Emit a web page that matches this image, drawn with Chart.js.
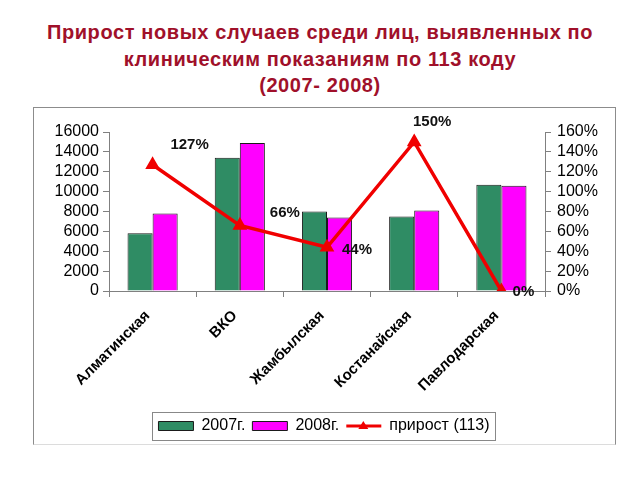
<!DOCTYPE html>
<html>
<head>
<meta charset="utf-8">
<script src="https://cdn.jsdelivr.net/npm/chart.js@4"></script>
<style>
    body { margin: 0; width: 640px; height: 480px; background: #fff; position: relative; overflow: hidden; }
    #title {
        position: absolute; left: 0; top: 19px; width: 640px; text-align: center;
        font: bold 20px "Liberation Sans", Arial, sans-serif; letter-spacing: 0.6px;
        line-height: 26.5px; color: #A0102A;
    }
    #frame {
        position: absolute; left: 33px; top: 107px; width: 581px; height: 336px;
        border: 1px solid #8c8c8c; border-bottom-color: #dcdcdc;
    }
    #wrap { position: absolute; left: 33px; top: 107px; width: 582px; height: 337px; }
</style>
</head>
<body>
<div id="title">Прирост новых случаев среди лиц, выявленных по<br>клиническим показаниям по 113 коду<br>(2007- 2008)</div>
<div id="frame"></div>
<div id="wrap"><canvas id="chart" width="582" height="337"></canvas></div>
<script>
const regions = ['Алматинская', 'ВКО', 'Жамбылская', 'Костанайская', 'Павлодарская'];
const cases2007 = [5800, 13400, 8000, 7500, 10700];
const cases2008 = [7800, 14900, 7400, 8100, 10600];
const growth = [127, 66, 44, 150, 0];
const leftTicks = [0, 2000, 4000, 6000, 8000, 10000, 12000, 14000, 16000];
const rightTicks = [0, 20, 40, 60, 80, 100, 120, 140, 160];

const FONT = "'Liberation Sans', Arial, sans-serif";
const AXIS_GREY = '#808080';

// label offsets relative to each growth point (px)
const labelShift = [[37, -20], [45, -13], [30, 3], [18, -20], [22, 1]];

const growthLabels = {
    id: 'growthLabels',
    afterDatasetsDraw(chart) {
        const meta = chart.getDatasetMeta(2);
        const ctx = chart.ctx;
        ctx.save();
        ctx.font = 'bold 15px ' + FONT;
        ctx.fillStyle = '#111';
        ctx.textAlign = 'center';
        ctx.textBaseline = 'middle';
        meta.data.forEach((pt, i) => {
            ctx.fillText(growth[i] + '%', pt.x + labelShift[i][0], pt.y + labelShift[i][1]);
        });
        ctx.restore();
    }
};

const legendDecor = {
    id: 'legendDecor',
    afterDraw(chart) {
        const lg = chart.legend;
        if (!lg || !lg.legendHitBoxes.length) return;
        const boxes = lg.legendHitBoxes;
        const ctx = chart.ctx;
        const last = boxes[boxes.length - 1];
        const l = boxes[0].left - 6, r = last.left + last.width + 6;
        const t = boxes[0].top - 6, b = boxes[0].top + boxes[0].height + 6;
        ctx.save();
        ctx.strokeStyle = '#888';
        ctx.lineWidth = 1;
        ctx.strokeRect(Math.round(l) + 0.5, Math.round(t) + 0.5, Math.round(r - l), Math.round(b - t));
        // triangle marker on the line item
        const hb = boxes[2];
        const cx = hb.left + 17, cy = hb.top + hb.height / 2;
        ctx.fillStyle = '#F00000';
        ctx.beginPath();
        ctx.moveTo(cx, cy - 5);
        ctx.lineTo(cx + 5, cy + 3);
        ctx.lineTo(cx - 5, cy + 3);
        ctx.closePath();
        ctx.fill();
        ctx.restore();
    }
};

new Chart(document.getElementById('chart'), {
    type: 'bar',
    data: {
        labels: regions,
        datasets: [{
            label: '2007г.',
            data: cases2007,
            backgroundColor: '#2F8C64',
            borderColor: '#1a1a1a',
            borderWidth: 1,
            yAxisID: 'y',
            order: 1
        }, {
            label: '2008г.',
            data: cases2008,
            backgroundColor: '#FF00FF',
            borderColor: '#1a1a1a',
            borderWidth: 1,
            yAxisID: 'y',
            order: 1
        }, {
            type: 'line',
            label: 'прирост (113)',
            data: growth,
            borderColor: '#F00000',
            backgroundColor: '#F00000',
            borderWidth: 3.5,
            pointStyle: 'triangle',
            pointRadius: 5,
            pointBackgroundColor: '#F00000',
            pointBorderColor: '#F00000',
            tension: 0,
            yAxisID: 'y1',
            order: 0
        }]
    },
    options: {
        responsive: false,
        animation: false,
        events: [],
        categoryPercentage: 0.575,
        barPercentage: 1,
        layout: { padding: { top: 25, bottom: 0, left: 0, right: 0 } },
        plugins: {
            tooltip: { enabled: false },
            legend: {
                position: 'bottom',
                labels: {
                    usePointStyle: true,
                    pointStyleWidth: 35,
                    boxHeight: 9,
                    padding: 7,
                    color: '#000',
                    font: { family: FONT, size: 16 },
                    generateLabels(chart) {
                        return chart.data.datasets.map((ds, i) => ({
                            text: ds.label,
                            fillStyle: ds.backgroundColor,
                            strokeStyle: i === 2 ? '#F00000' : '#1a1a1a',
                            lineWidth: i === 2 ? 3 : 1,
                            pointStyle: i === 2 ? 'line' : 'rect',
                            datasetIndex: i
                        }));
                    }
                }
            }
        },
        scales: {
            x: {
                grid: { display: true, drawOnChartArea: false, offset: true, color: AXIS_GREY, tickLength: 6 },
                border: { display: true, color: AXIS_GREY },
                ticks: {
                    color: '#000',
                    font: { family: FONT, size: 15, weight: 'bold' },
                    maxRotation: 45,
                    minRotation: 45,
                    autoSkip: false,
                    labelOffset: -5,
                    padding: 10
                },
                afterFit(scale) { scale.height = 120; }
            },
            y: {
                position: 'left',
                min: 0,
                max: 16000,
                afterBuildTicks(scale) { scale.ticks = leftTicks.map(v => ({ value: v })); },
                grid: { drawOnChartArea: false, color: AXIS_GREY, tickLength: 6 },
                border: { color: AXIS_GREY },
                ticks: {
                    color: '#000',
                    font: { family: FONT, size: 16 },
                    autoSkip: false,
                    padding: 4,
                    callback: v => String(v)
                },
                afterFit(scale) { scale.width = 76; }
            },
            y1: {
                position: 'right',
                min: 0,
                max: 160,
                afterBuildTicks(scale) { scale.ticks = rightTicks.map(v => ({ value: v })); },
                grid: { drawOnChartArea: false, color: AXIS_GREY, tickLength: 6 },
                border: { color: AXIS_GREY },
                ticks: {
                    color: '#000',
                    font: { family: FONT, size: 16 },
                    autoSkip: false,
                    padding: 6,
                    callback: v => v + '%'
                },
                afterFit(scale) { scale.width = 70; }
            }
        }
    },
    plugins: [growthLabels, legendDecor]
});
</script>
</body>
</html>
